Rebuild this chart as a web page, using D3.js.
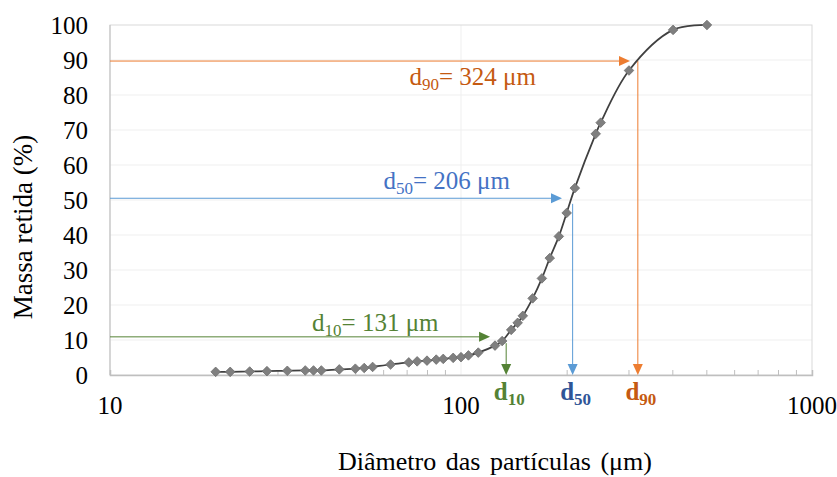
<!DOCTYPE html>
<html>
<head>
<meta charset="utf-8">
<script src="https://cdn.jsdelivr.net/npm/d3@7"></script>
<style>
  body { margin: 0; background: #fff; }
  text { font-family: "Liberation Serif", "Times New Roman", serif; }
</style>
</head>
<body>
<svg width="837" height="477"></svg>
<script>
// particle diameter (um) and cumulative retained mass (%)
const diameters = [20, 22, 25, 28, 32, 36, 38, 40, 45, 50, 53, 56, 63, 71, 75, 80, 85, 89, 95, 100,
  105, 112, 125, 131, 139, 145, 150, 160, 170, 179, 190, 200, 211, 242, 250, 301, 402, 502];
const retained = [0.9, 0.9, 1.0, 1.1, 1.2, 1.3, 1.3, 1.3, 1.6, 1.8, 2.0, 2.3, 3.0, 3.6, 3.9, 4.1, 4.4, 4.6, 4.9, 5.1,
  5.6, 6.4, 8.4, 9.7, 12.9, 14.9, 16.9, 21.9, 27.6, 33.4, 39.6, 46.3, 53.4, 68.9, 72.1, 87.0, 98.6, 100];

const xTicks = [10, 100, 1000];
const yTicks = [0, 10, 20, 30, 40, 50, 60, 70, 80, 90, 100];

// d10 / d50 / d90 annotations
const dNames = ["10", "50", "90"];
const dValues = [131, 206, 324];
const dLevels = [10.9, 50.5, 89.7];     // height of the horizontal arrows
const arrowTipX = [121, 194, 303];       // where horizontal arrows end
const dropX = [134.5, 208, 319];         // x of the vertical arrows
const dropStart = [9.1, 48.9, 89.7];     // top of the vertical arrows
const lineColors = ["#548235", "#5B9BD5", "#ED7D31"];
const labelColors = ["#548235", "#4472C4", "#C55A11"];
const axisLabelColors = ["#548235", "#2F5597", "#C55A11"];
const labelPos = [[57, 12.6], [91, 53.1], [108, 82.9]]; // [diameter, %] of label centres

const margin = { top: 25, right: 25, bottom: 102, left: 110 };
const width = 837 - margin.left - margin.right;
const height = 477 - margin.top - margin.bottom;

const x = d3.scaleLog().domain([10, 1000]).range([0, width]);
const y = d3.scaleLinear().domain([0, 100]).range([height, 0]);

const svg = d3.select("svg")
  .append("g")
  .attr("transform", `translate(${margin.left},${margin.top})`);

// gridlines
svg.selectAll(".hgrid")
  .data(yTicks.slice(1, -1))
  .enter()
  .append("line")
  .attr("x1", 0).attr("x2", width)
  .attr("y1", (d) => y(d)).attr("y2", (d) => y(d))
  .attr("stroke", "#efefef");

svg.append("line")
  .attr("x1", x(100)).attr("x2", x(100))
  .attr("y1", 0).attr("y2", height)
  .attr("stroke", "#efefef");

// plot frame
svg.append("rect")
  .attr("width", width).attr("height", height)
  .attr("fill", "none")
  .attr("stroke", "#d9d9d9");

svg.append("line")
  .attr("x1", 0).attr("x2", 0).attr("y1", 0).attr("y2", height)
  .attr("stroke", "#bfbfbf");

// x axis with minor ticks pointing up
const minor = [];
[10, 100].forEach((dec) => {
  for (let k = 2; k <= 9; k++) minor.push(dec * k);
});
const xAxis = svg.append("g")
  .attr("transform", `translate(0,${height})`)
  .call(d3.axisBottom(x).tickValues(minor).tickSize(-5).tickFormat(""));
xAxis.select(".domain").attr("stroke", "#bfbfbf").attr("stroke-width", 1.5);
xAxis.selectAll(".tick line").attr("stroke", "#bfbfbf");

svg.selectAll(".xlab")
  .data(xTicks)
  .enter()
  .append("text")
  .attr("x", (d) => x(d))
  .attr("y", height + 39)
  .attr("text-anchor", "middle")
  .style("font-size", "25px")
  .text((d) => d);

svg.selectAll(".ylab")
  .data(yTicks)
  .enter()
  .append("text")
  .attr("x", -22)
  .attr("y", (d) => y(d))
  .attr("dy", "0.35em")
  .attr("text-anchor", "end")
  .style("font-size", "25px")
  .text((d) => d);

// axis titles
svg.append("text")
  .attr("transform", `translate(${23 - margin.left},${227 - margin.top}) rotate(-90)`)
  .attr("dy", "0.35em")
  .attr("text-anchor", "middle")
  .style("font-size", "27px")
  .text("Massa retida (%)");

svg.append("text")
  .attr("x", 495 - margin.left)
  .attr("y", 470 - margin.top)
  .attr("text-anchor", "middle")
  .style("font-size", "26px")
  .style("word-spacing", "3px")
  .text("Diâmetro das partículas (μm)");

// annotation arrows
function arrowHead(tx, ty, dir, color) {
  const L = 11, W = 5;
  const pts = dir === "right"
    ? [[tx, ty], [tx - L, ty - W], [tx - L, ty + W]]
    : [[tx, ty], [tx - W, ty - L], [tx + W, ty - L]];
  svg.append("path")
    .attr("d", "M" + pts.join("L") + "Z")
    .attr("fill", color);
}

dNames.forEach((n, i) => {
  const yl = y(dLevels[i]);
  const tip = x(arrowTipX[i]);
  svg.append("line")
    .attr("x1", 0).attr("x2", tip - 8)
    .attr("y1", yl).attr("y2", yl)
    .attr("stroke", lineColors[i]).attr("stroke-width", 1);
  arrowHead(tip, yl, "right", lineColors[i]);

  const xd = x(dropX[i]);
  svg.append("line")
    .attr("x1", xd).attr("x2", xd)
    .attr("y1", y(dropStart[i])).attr("y2", height - 6)
    .attr("stroke", lineColors[i]).attr("stroke-width", 1);
  arrowHead(xd, height, "down", lineColors[i]);

  const lt = svg.append("text")
    .attr("x", x(labelPos[i][0]))
    .attr("y", y(labelPos[i][1]))
    .attr("text-anchor", "middle")
    .attr("fill", labelColors[i])
    .style("font-size", "25px");
  lt.append("tspan").text("d");
  lt.append("tspan").attr("dy", 5).style("font-size", "17px").text(n);
  lt.append("tspan").attr("dy", -5).text(`= ${dValues[i]} μm`);

  const bt = svg.append("text")
    .attr("x", xd + 3)
    .attr("y", height + 25)
    .attr("text-anchor", "middle")
    .attr("fill", axisLabelColors[i])
    .style("font-size", "25px")
    .style("font-weight", "bold");
  bt.append("tspan").text("d");
  bt.append("tspan").attr("dy", 5).style("font-size", "17px").text(n);
});

// curve and markers
const pts = diameters.map((d, i) => [x(d), y(retained[i])]);
svg.append("path")
  .attr("d", d3.line().curve(d3.curveCatmullRom.alpha(0.5))(pts))
  .attr("fill", "none")
  .attr("stroke", "#404040")
  .attr("stroke-width", 1.75);

svg.selectAll(".pt")
  .data(pts)
  .enter()
  .append("path")
  .attr("d", d3.symbol().type(d3.symbolSquare).size(46)())
  .attr("transform", (d) => `translate(${d[0]},${d[1]}) rotate(45)`)
  .attr("fill", "#7f7f7f")
  .attr("stroke", "#6f6f6f")
  .attr("stroke-width", 0.75);
</script>
</body>
</html>
